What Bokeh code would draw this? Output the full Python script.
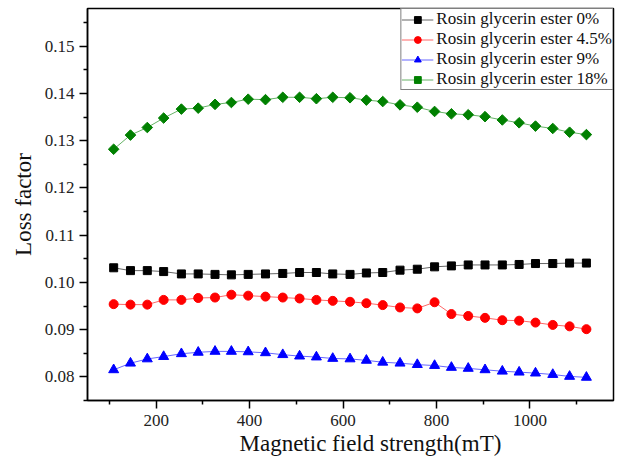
from bokeh.plotting import figure
from bokeh.models import FixedTicker, Legend, LegendItem, Range1d, PrintfTickFormatter, Title
from bokeh.embed import file_html
from bokeh.resources import INLINE

# Magnetic field strength (mT)
field = [109, 145, 181, 216, 254, 290, 326, 361, 397, 434, 471, 507, 543, 578, 615,
         650, 685, 722, 759, 796, 832, 868, 904, 941, 977, 1012, 1049, 1085, 1121]

ester_0 = [0.1031, 0.1025, 0.1025, 0.1023, 0.1018, 0.1018, 0.1017, 0.1016, 0.1017, 0.1018,
           0.1019, 0.1021, 0.1021, 0.1018, 0.1017, 0.1020, 0.1021, 0.1026, 0.1028, 0.1033,
           0.1035, 0.1037, 0.1037, 0.1037, 0.1038, 0.1040, 0.1040, 0.1041, 0.1041]
ester_45 = [0.0954, 0.0953, 0.0953, 0.0963, 0.0963, 0.0967, 0.0968, 0.0974, 0.0972, 0.0970,
            0.0968, 0.0966, 0.0963, 0.0961, 0.0959, 0.0956, 0.0952, 0.0947, 0.0945, 0.0958,
            0.0933, 0.0929, 0.0925, 0.0920, 0.0919, 0.0915, 0.0910, 0.0907, 0.0901]
ester_9 = [0.0815, 0.0829, 0.0838, 0.0843, 0.0849, 0.0852, 0.0854, 0.0854, 0.0853, 0.0851,
           0.0847, 0.0844, 0.0842, 0.0839, 0.0838, 0.0835, 0.0831, 0.0829, 0.0826, 0.0824,
           0.0820, 0.0818, 0.0815, 0.0812, 0.0810, 0.0808, 0.0805, 0.0801, 0.0799]
ester_18 = [0.1282, 0.1312, 0.1328, 0.1348, 0.1367, 0.1369, 0.1377, 0.1381, 0.1388, 0.1387,
            0.1392, 0.1392, 0.1389, 0.1392, 0.1391, 0.1386, 0.1383, 0.1376, 0.1371, 0.1362,
            0.1357, 0.1355, 0.1351, 0.1344, 0.1338, 0.1331, 0.1326, 0.1318, 0.1313]

labels = ["Rosin glycerin ester 0%", "Rosin glycerin ester 4.5%",
          "Rosin glycerin ester 9%", "Rosin glycerin ester 18%"]

x_major = [200, 400, 600, 800, 1000]
x_minor = [100, 300, 500, 700, 900, 1100]
y_major = [0.08, 0.09, 0.10, 0.11, 0.12, 0.13, 0.14, 0.15]
y_minor = [0.075, 0.085, 0.095, 0.105, 0.115, 0.125, 0.135, 0.145, 0.155]

x_title = "Magnetic field strength(mT)"
y_title = "Loss factor"

FONT = "Liberation Serif"

p = figure(width=622, height=463, output_backend="svg", toolbar_location=None,
           x_range=Range1d(53, 1179), y_range=Range1d(0.075, 0.158),
           min_border_left=87, min_border_right=9, min_border_top=8, min_border_bottom=63)

p.xgrid.visible = False
p.ygrid.visible = False
p.outline_line_color = "black"
p.outline_line_width = 1.5
p.background_fill_color = "white"

for ax in (p.xaxis[0], p.yaxis[0]):
    ax.axis_line_color = "black"
    ax.axis_line_width = 1.5
    ax.major_tick_line_color = "black"
    ax.minor_tick_line_color = "black"
    ax.major_tick_line_width = 1.5
    ax.minor_tick_line_width = 1.5
    ax.major_tick_out = 8
    ax.major_tick_in = 0
    ax.minor_tick_out = 4
    ax.minor_tick_in = 0
    ax.major_label_text_font = FONT
    ax.major_label_text_font_size = "17px"
    ax.major_label_text_color = "#222222"
    ax.axis_label_text_font = FONT
    ax.axis_label_text_font_size = "23px"
    ax.axis_label_text_font_style = "normal"
    ax.axis_label_text_color = "#111111"

p.xaxis[0].ticker = FixedTicker(ticks=x_major, minor_ticks=x_minor)
p.yaxis[0].ticker = FixedTicker(ticks=y_major, minor_ticks=y_minor)
p.yaxis[0].formatter = PrintfTickFormatter(format="%.2f")
p.yaxis[0].axis_label = y_title
p.xaxis[0].major_label_standoff = 6
p.yaxis[0].major_label_standoff = 5
p.yaxis[0].axis_label_standoff = 6

# x-axis title placed below the axis (shifted right as in the reference)
p.add_layout(Title(text=x_title, align="left", offset=152, standoff=0,
                   text_font=FONT, text_font_size="23px", text_font_style="normal",
                   text_color="#111111"), "below")

series = [
    (ester_0, "black", "square", 8, 0),
    (ester_45, "red", "circle", 9, 0),
    (ester_9, "blue", "triangle", 10, 0),
    (ester_18, "green", "square", 7.5, 45),
]

items = []
for (vals, color, marker, size, ang), lab in zip(series, labels):
    l = p.line(field, vals, line_color=color, line_width=1, line_alpha=0.6)
    s = p.scatter(field, vals, marker=marker, size=size, angle=ang, angle_units="deg",
                  fill_color=color, line_color=color)
    items.append(LegendItem(label=lab, renderers=[l, s]))

legend = Legend(items=items, location="top_right", margin=0, padding=0, spacing=0,
                label_height=17, glyph_height=17, glyph_width=32, label_standoff=3,
                border_line_color="black", border_line_width=1,
                label_text_font=FONT, label_text_font_size="17px",
                label_text_color="#111111", background_fill_alpha=1)
p.add_layout(legend)

open("out.html", "w").write(file_html(p, INLINE))
